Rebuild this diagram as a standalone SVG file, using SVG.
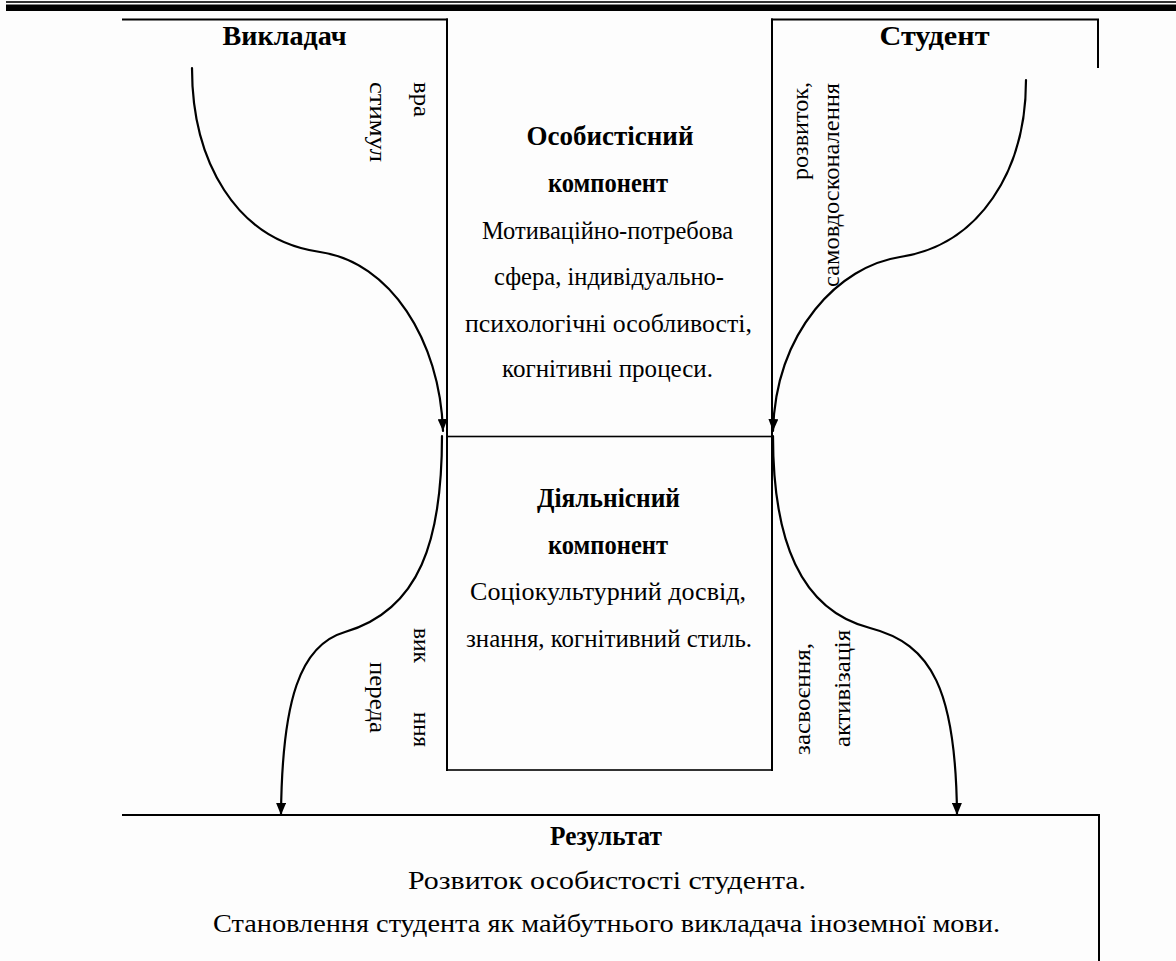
<svg xmlns="http://www.w3.org/2000/svg" width="1176" height="961" viewBox="0 0 1176 961">
  <style>
    .bg { fill: #fdfdfd; }
    .frame { fill: none; stroke: #000; stroke-width: 2; }
    .thin { fill: none; stroke: #000; stroke-width: 1.6; }
    .flow { fill: none; stroke: #000; stroke-width: 2.2; stroke-linecap: round; }
    text { font-family: "Liberation Serif", "Times New Roman", serif; fill: #000; }
    .head { font-weight: bold; font-size: 27px; text-anchor: middle; }
    .body { font-size: 24.5px; text-anchor: middle; }
    .res { font-size: 26px; text-anchor: middle; }
    .side { font-size: 24px; }
  </style>
  <defs>
    <marker id="arrow" markerUnits="userSpaceOnUse" markerWidth="12" markerHeight="10" refX="12" refY="5" orient="auto">
      <path d="M0,0 L12,5 L0,10 z" fill="#000"/>
    </marker>
  </defs>

  <rect class="bg" x="0" y="0" width="1176" height="961"/>

  <!-- page header rules -->
  <g id="header-rule">
    <rect x="6" y="1.2" width="1170" height="1.6" fill="#000"/>
    <rect x="6" y="4.5" width="1170" height="6.5" fill="#000"/>
  </g>

  <!-- teacher -->
  <g id="teacher">
    <line class="frame" x1="122" y1="19.5" x2="448" y2="19.5"/>
    <text class="head" x="284.5" y="45" textLength="124" lengthAdjust="spacingAndGlyphs">Викладач</text>
  </g>

  <!-- student -->
  <g id="student">
    <polyline class="frame" points="771,19.5 1098,19.5 1098,68"/>
    <text class="head" x="934.5" y="45" textLength="110" lengthAdjust="spacingAndGlyphs">Студент</text>
  </g>

  <!-- personal component -->
  <g id="personal-component">
    <line class="frame" x1="447" y1="18.5" x2="447" y2="437"/>
    <line class="frame" x1="772" y1="18.5" x2="772" y2="437"/>
    <text class="head" x="610" y="145" textLength="167" lengthAdjust="spacingAndGlyphs">Особистісний</text>
    <text class="head" x="608" y="192" textLength="120" lengthAdjust="spacingAndGlyphs">компонент</text>
    <text class="body" x="607.5" y="239" textLength="251" lengthAdjust="spacingAndGlyphs">Мотиваційно-потребова</text>
    <text class="body" x="609" y="285" textLength="230" lengthAdjust="spacingAndGlyphs">сфера, індивідуально-</text>
    <text class="body" x="608.5" y="332" textLength="287" lengthAdjust="spacingAndGlyphs">психологічні особливості,</text>
    <text class="body" x="607.5" y="377" textLength="211" lengthAdjust="spacingAndGlyphs">когнітивні процеси.</text>
  </g>

  <!-- activity component -->
  <g id="activity-component">
    <rect class="thin" x="447" y="436.5" width="325" height="333.5"/>
    <line class="frame" x1="447" y1="436" x2="447" y2="771"/>
    <line class="frame" x1="772" y1="436" x2="772" y2="771"/>
    <text class="head" x="608.5" y="507" textLength="143" lengthAdjust="spacingAndGlyphs">Діяльнісний</text>
    <text class="head" x="608" y="554" textLength="120" lengthAdjust="spacingAndGlyphs">компонент</text>
    <text class="body" x="608" y="600" textLength="276" lengthAdjust="spacingAndGlyphs">Соціокультурний досвід,</text>
    <text class="body" x="609" y="647" textLength="286" lengthAdjust="spacingAndGlyphs">знання, когнітивний стиль.</text>
  </g>

  <!-- result -->
  <g id="result">
    <polyline class="frame" points="122,815 1099,815 1099,961"/>
    <text class="head" x="606" y="845" textLength="112" lengthAdjust="spacingAndGlyphs">Результат</text>
    <text class="res" x="607" y="889" textLength="398" lengthAdjust="spacingAndGlyphs">Розвиток особистості студента.</text>
    <text class="res" x="606.5" y="932" textLength="787" lengthAdjust="spacingAndGlyphs">Становлення студента як майбутнього викладача іноземної мови.</text>
  </g>

  <!-- connectors -->
  <g id="connectors">
    <path class="flow" d="M192,68 C192,160 235,240 320,252 C390,262 440,340 443,431" marker-end="url(#arrow)"/>
    <path class="flow" d="M1026,80 C1026,170 980,245 900,257 C840,266 776,330 773,431" marker-end="url(#arrow)"/>
    <path class="flow" d="M442,436 C442,540 420,610 345,632 C300,645 282,700 281,815" marker-end="url(#arrow)"/>
    <path class="flow" d="M773,436 C773,540 800,610 870,628 C932,644 956,690 957,815" marker-end="url(#arrow)"/>

    <!-- connector labels -->
    <text class="side" transform="translate(414,82) rotate(90)" textLength="35" lengthAdjust="spacingAndGlyphs">вра</text>
    <text class="side" transform="translate(370,82) rotate(90)" textLength="80" lengthAdjust="spacingAndGlyphs">стимул</text>
    <text class="side" transform="translate(414,628) rotate(90)" textLength="35" lengthAdjust="spacingAndGlyphs">вик</text>
    <text class="side" transform="translate(414,712) rotate(90)" textLength="35" lengthAdjust="spacingAndGlyphs">ння</text>
    <text class="side" transform="translate(370,662) rotate(90)" textLength="71" lengthAdjust="spacingAndGlyphs">переда</text>
    <text class="side" transform="translate(808,180) rotate(-90)" textLength="98" lengthAdjust="spacingAndGlyphs">розвиток,</text>
    <text class="side" transform="translate(839,287) rotate(-90)" textLength="204" lengthAdjust="spacingAndGlyphs">самовдосконалення</text>
    <text class="side" transform="translate(810,755) rotate(-90)" textLength="112" lengthAdjust="spacingAndGlyphs">засвоєння,</text>
    <text class="side" transform="translate(850,747) rotate(-90)" textLength="117" lengthAdjust="spacingAndGlyphs">активізація</text>
  </g>
</svg>
